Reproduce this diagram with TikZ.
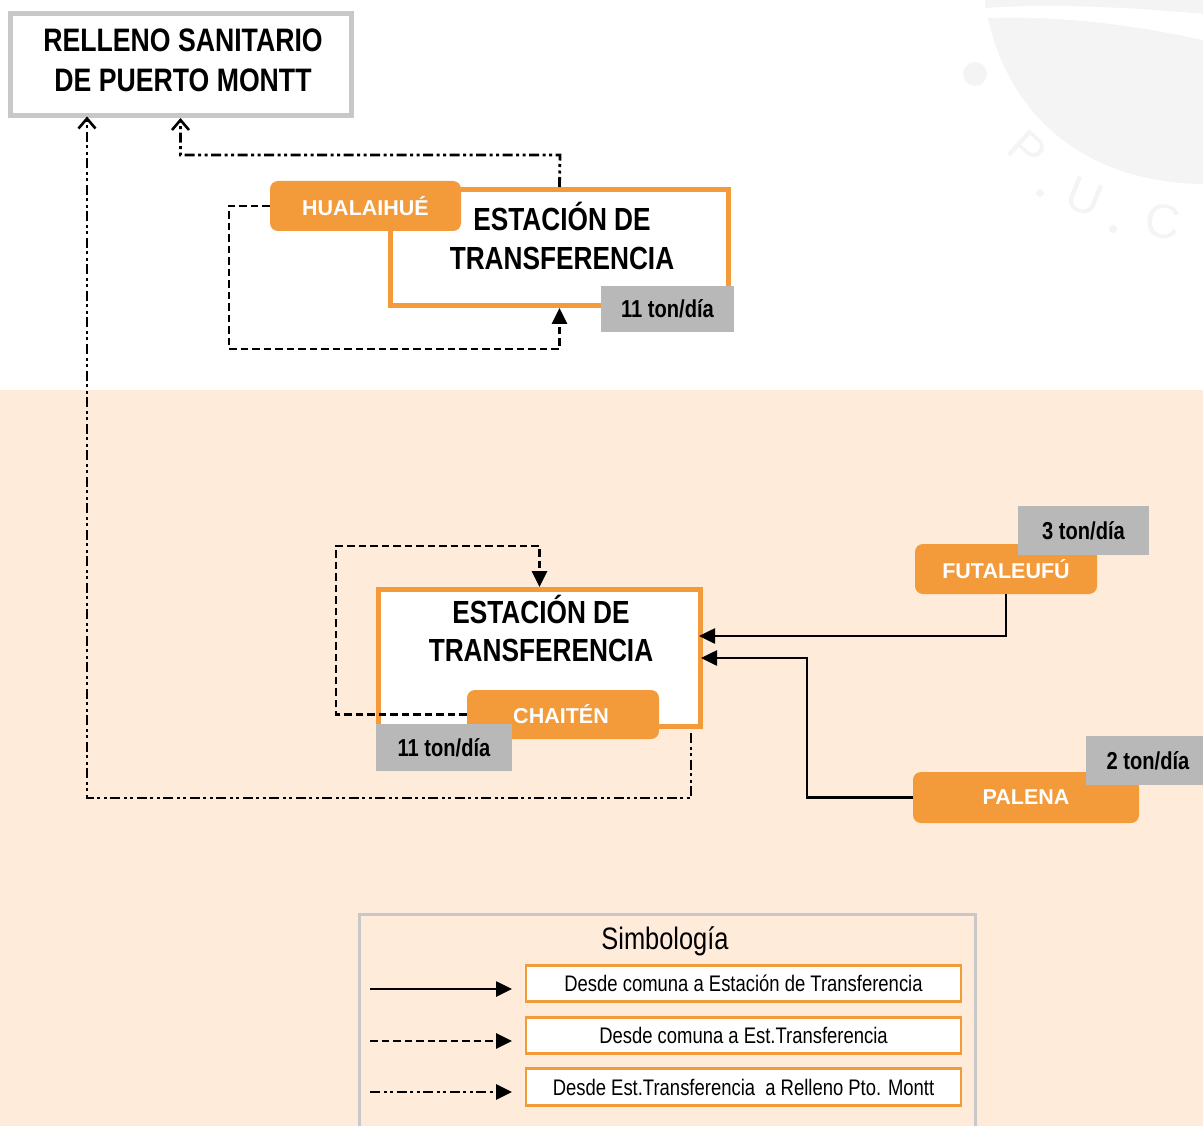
\documentclass[tikz,border=0pt]{standalone}
\usepackage{fontspec}
\setmainfont{Liberation Sans}
\newfontfamily\narrowfont[FakeStretch=0.82]{Liberation Sans}
\usetikzlibrary{arrows.meta,calc}
\definecolor{orng}{HTML}{F39A3B}
\definecolor{peach}{HTML}{FFEBDA}
\definecolor{tongray}{HTML}{B8B8B8}
\definecolor{bordgray}{HTML}{C8C8C8}
\definecolor{wm}{HTML}{F4F4F4}
\begin{document}
\begin{tikzpicture}[x=1pt,y=-1pt,
  stationbox/.style={draw=orng,line width=5pt,fill=white,inner sep=0pt},
  bigtext/.style={font={\narrowfont\bfseries\fontsize{32}{38}\selectfont},align=center,inner sep=0pt},
  comuna/.style={fill=orng,rounded corners=8pt,inner sep=0pt,text=white,
     font={\bfseries\fontsize{21.5}{24}\selectfont}},
  tonbox/.style={fill=tongray,inner sep=0pt,font={\narrowfont\bfseries\fontsize{24.5}{28}\selectfont}},
  tip/.style={-{Triangle[length=16pt,width=15pt]}},
  vtip/.style={-{Straight Barb[length=10pt,width=17pt,line width=2.6pt]}},
  solidline/.style={line width=2.6pt,tip},
  dashline/.style={line width=2.8pt,dash pattern=on 7.5pt off 4pt,tip},
  dotline/.style={line width=2.8pt,dash pattern=on 10pt off 3.5pt on 3pt off 3.5pt on 3pt off 3.5pt},
  legbox/.style={draw=orng,line width=2.5pt,fill=white,minimum width=435pt,minimum height=36pt,inner sep=0pt,
     font={\narrowfont\fontsize{22.5}{25}\selectfont}},
]
\useasboundingbox (0,0) rectangle (1203,1126);
\clip (0,0) rectangle (1203,1126);

% background
\fill[peach] (0,390) rectangle (1203,1126);

% faint watermark (top right)
\fill[wm] (985,0) -- (1203,0) -- (1203,14) .. controls (1120,6) and (1040,4) .. (985,8) -- cycle;
\fill[wm] (988,18) .. controls (1010,120) and (1090,183) .. (1203,184) -- (1203,40) .. controls (1120,22) and (1050,16) .. cycle;
\fill[wm] (975,74) circle (12);
\draw[wm,line width=7pt] (925,-4) arc[start angle=180,end angle=360,radius=20];
\node[text=wm,font={\fontsize{48}{48}\selectfont},rotate=-42] (wmP) at (1027,150) {P};
\fill[wm] (1040,193) circle (4);
\node[text=wm,font={\fontsize{48}{48}\selectfont},rotate=-22] (wmU) at (1085,197) {U};
\fill[wm] (1113,229) circle (4);
\node[text=wm,font={\fontsize{48}{48}\selectfont},rotate=-8] (wmC) at (1163,222) {C};

% Relleno
\node[draw=bordgray,line width=5pt,fill=white,minimum width=341pt,minimum height=102pt,inner sep=0pt] (relleno) at (180.5,64.5) {};
\node[font={\narrowfont\bfseries\fontsize{32.5}{40}\selectfont},align=center,inner sep=0pt] (rellenot) at (183,60) {RELLENO SANITARIO\\DE PUERTO MONTT};
\coordinate (rin2) at (87,116.5);

% Estacion Hualaihue
\node[stationbox,minimum width=338pt,minimum height=116pt] (est1) at (559.5,247.5) {};
\node[bigtext] (est1t) at (562,236) {ESTACIÓN DE\\[1pt]TRANSFERENCIA};
\node[comuna,minimum width=191pt,minimum height=50pt] (hual) at (365.5,206) {HUALAIHUÉ};
\node[tonbox,minimum width=133pt,minimum height=46pt] (ton1) at (667.5,309) {11 ton/día};

% Estacion Chaiten
\node[stationbox,minimum width=322pt,minimum height=137pt] (est2) at (539.5,658) {};
\node[bigtext] (est2t) at (541,628.5) {ESTACIÓN DE\\TRANSFERENCIA};
\node[comuna,minimum width=192pt,minimum height=49pt] (chai) at (563,714.5) {\hspace*{-4pt}CHAITÉN};
\node[tonbox,minimum width=136pt,minimum height=47pt] (ton2) at (444,747.5) {11 ton/día};
\coordinate (e2out) at (691,733);

% Futaleufu, Palena
\node[comuna,minimum width=182pt,minimum height=50pt] (futa) at (1006,569) {FUTALEUFÚ};
\node[tonbox,minimum width=131pt,minimum height=49pt] (ton3) at (1083.5,530.5) {3 ton/día};
\node[comuna,minimum width=226pt,minimum height=51pt] (pale) at (1026,797.5) {PALENA};
\node[tonbox,minimum width=124pt,minimum height=49pt] (ton4) at (1148,760.5) {2 ton/día};

% connectors
\draw[dashline] (hual.west) -| (229,349) -| (est1.south);
\draw[dotline,vtip] (est1.north) -- (560,155) -| (relleno.south);
\draw[dashline] (chai.west) -| (336,546) -| (est2.north);
\draw[dotline,vtip] (e2out) |- (87,798) -- (rin2);
\draw[solidline] (futa.south) |- ($(est2.east)+(-4,-22)$);
\draw[solidline] (pale.west) -- (807,797.5) |- ($(est2.east)+(-2,0)$);

% legend
\node[draw=bordgray,line width=3pt,fill=peach,minimum width=616pt,minimum height=240pt,inner sep=0pt,anchor=north west] (legend) at (357.5,912.5) {};
\node[font={\narrowfont\fontsize{31}{34}\selectfont},inner sep=0pt] (legtitle) at (665,941) {Simbología};
\node[legbox] (leg1) at (743.5,983.5) {Desde comuna a Estación de Transferencia};
\node[legbox] (leg2) at (743.5,1035.5) {Desde comuna a Est.Transferencia};
\node[legbox,minimum height=37pt] (leg3) at (743.5,1087) {Desde Est.Transferencia\ \ a Relleno Pto. Montt};
\coordinate (l1s) at (370,989); \coordinate (l1e) at (512,989);
\coordinate (l2s) at (370,1041); \coordinate (l2e) at (512,1041);
\coordinate (l3s) at (370,1092); \coordinate (l3e) at (512,1092);
\draw[solidline] (l1s) -- (l1e);
\draw[dashline] (l2s) -- (l2e);
\draw[dotline,tip] (l3s) -- (l3e);
\end{tikzpicture}
\end{document}
